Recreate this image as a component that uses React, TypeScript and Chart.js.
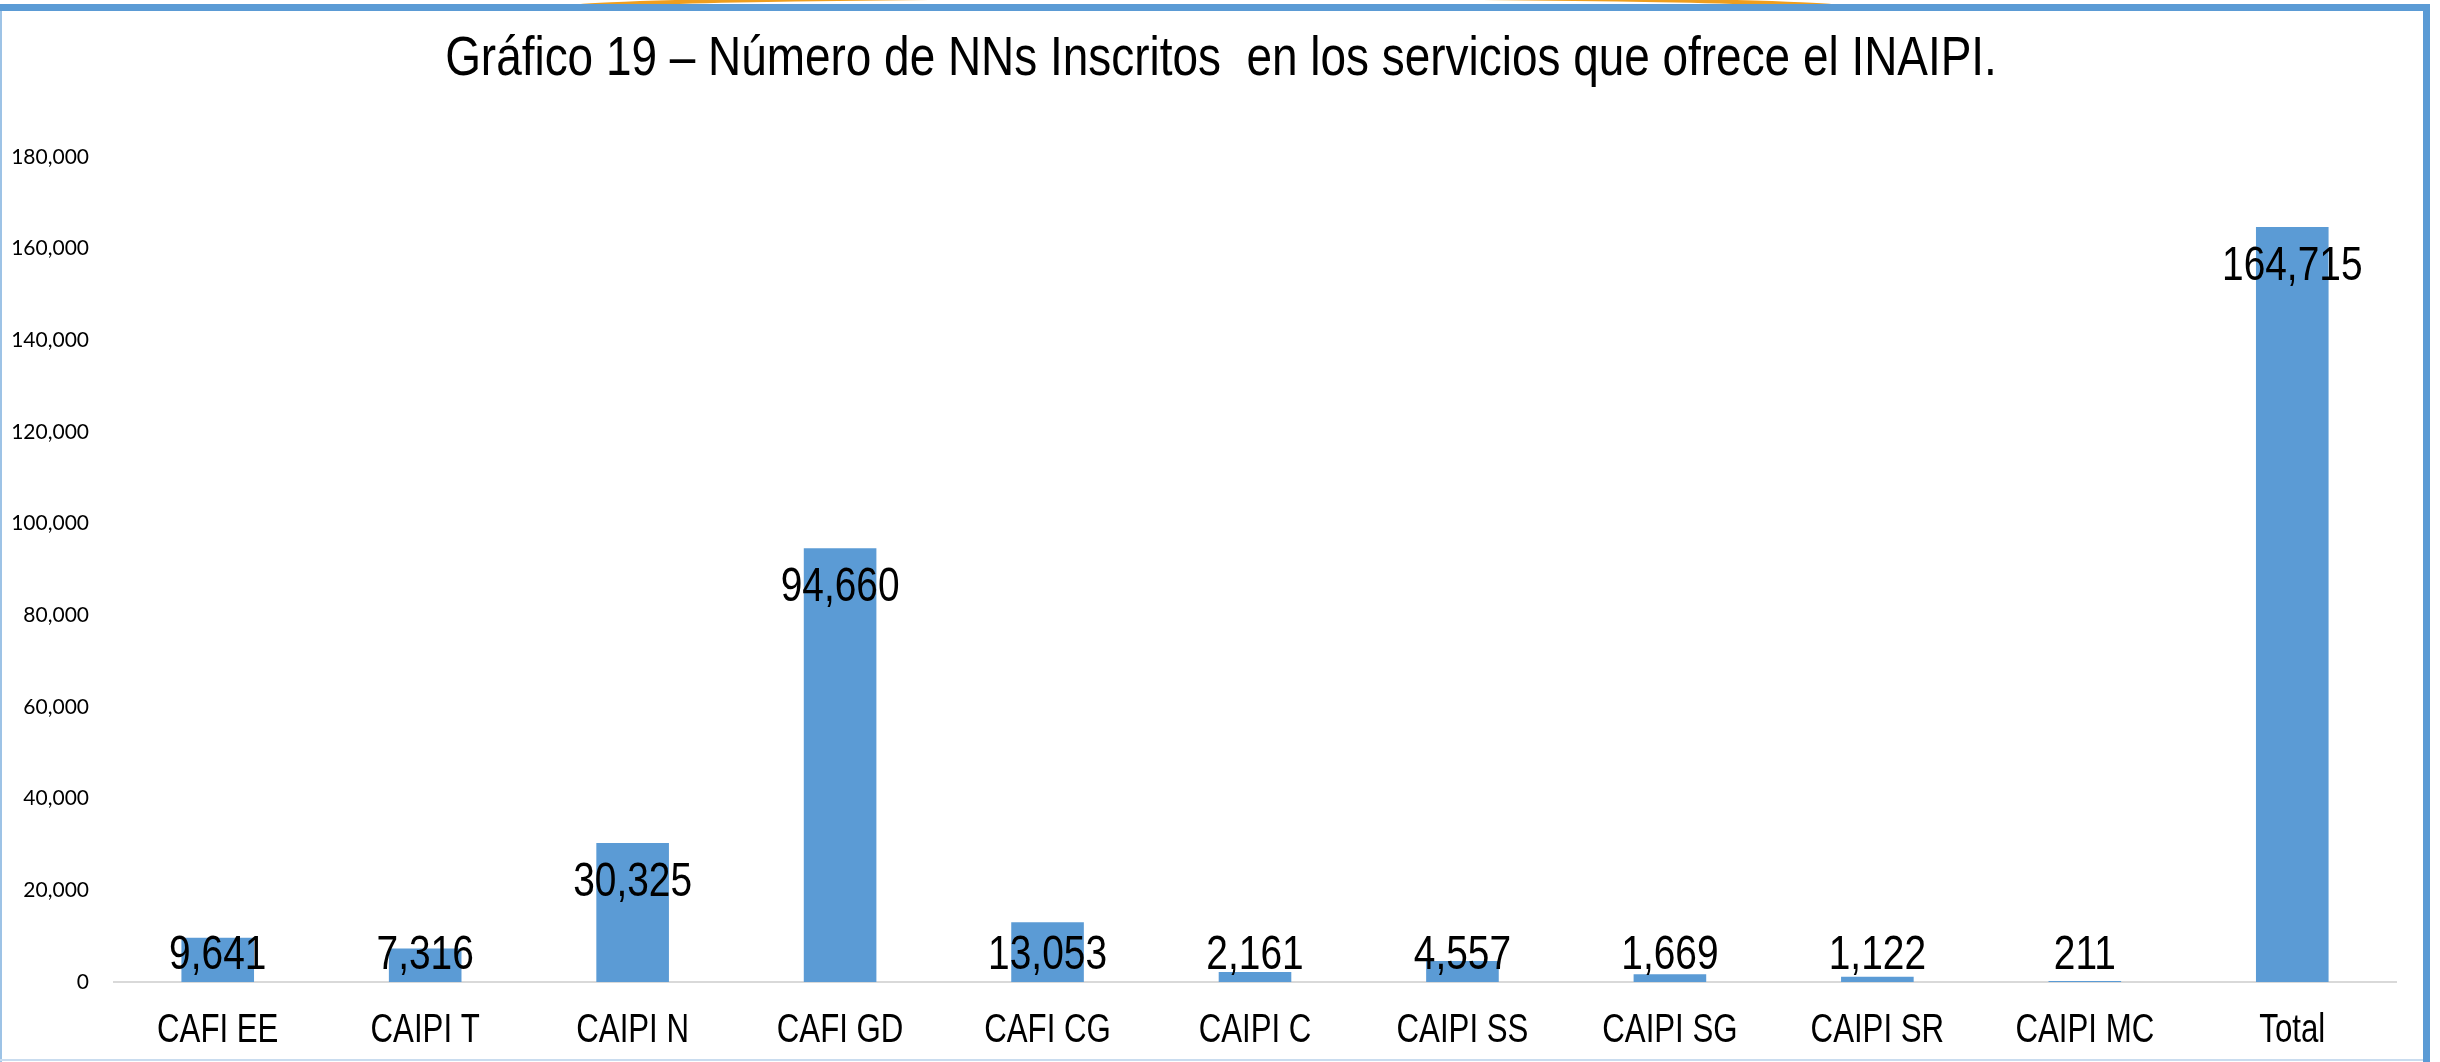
import React, { useEffect, useRef } from "react";
import { Chart, registerables, CategoryScale } from "chart.js";

const categories = [
  "CAFI EE",
  "CAIPI T",
  "CAIPI N",
  "CAFI GD",
  "CAFI CG",
  "CAIPI C",
  "CAIPI SS",
  "CAIPI SG",
  "CAIPI SR",
  "CAIPI MC",
  "Total",
];
const inscritos = [9641, 7316, 30325, 94660, 13053, 2161, 4557, 1669, 1122, 211, 164715];
const yMax = 180000;
const yStep = 20000;
const titleText = "Gráfico 19 – Número de NNs Inscritos  en los servicios que ofrece el INAIPI.";

const W = 2440;
const H = 1062;
const BAR = "#5B9BD5";
const SANS = "'Liberation Sans', Arial, sans-serif";
const SQUEEZE = 0.78;

// Category axis whose labels are drawn horizontally condensed (Arial Narrow look)
class NarrowCategoryScale extends (CategoryScale as any) {
  static id = "narrowCategory";
  static defaults = (CategoryScale as any).defaults;
  drawLabels(area: any) {
    const ctx: any = (this as any).ctx;
    const orig = ctx.fillText;
    ctx.fillText = function (t: string, x: number, y: number) {
      this.save();
      this.translate(x, y);
      this.scale(SQUEEZE, 1);
      orig.call(this, t, 0, 0);
      this.restore();
    };
    try {
      super.drawLabels(area);
    } finally {
      delete ctx.fillText;
    }
  }
}

Chart.register(...registerables, NarrowCategoryScale as any);

function narrowText(ctx: any, text: string, x: number, y: number, sx: number) {
  ctx.save();
  ctx.translate(x, y);
  ctx.scale(sx, 1);
  ctx.fillText(text, 0, 0);
  ctx.restore();
}

const framePlugin = {
  id: "frame",
  beforeDraw(chart: any) {
    const ctx = chart.ctx;
    ctx.save();
    ctx.fillStyle = "#ffffff";
    ctx.fillRect(0, 0, W, H);
    // orange decoration peeking above the frame
    ctx.save();
    ctx.beginPath();
    ctx.rect(0, 0, W, 5);
    ctx.clip();
    ctx.strokeStyle = "#EE9E1E";
    ctx.lineWidth = 4;
    ctx.beginPath();
    ctx.ellipse(1206, 8.5, 640, 11.6, 0, Math.PI, 2 * Math.PI);
    ctx.stroke();
    ctx.restore();
    // thin left & bottom
    ctx.fillStyle = "#9DC3E6";
    ctx.fillRect(0, 4, 2, H - 4);
    ctx.fillStyle = "#C9DCEF";
    ctx.fillRect(0, H - 3, 2430, 2);
    // thick top & right
    ctx.fillStyle = BAR;
    ctx.fillRect(0, 4, 2430, 7);
    ctx.fillRect(2423, 4, 7, H - 4);
    // title
    ctx.fillStyle = "#000000";
    ctx.font = `56px ${SANS}`;
    ctx.textAlign = "center";
    ctx.textBaseline = "middle";
    narrowText(ctx, titleText, 1221, 60, 0.82);
    ctx.restore();
  },
};

const labelPlugin = {
  id: "valueLabels",
  afterDatasetsDraw(chart: any) {
    const ctx = chart.ctx;
    const meta = chart.getDatasetMeta(0);
    const zeroY = chart.scales.y.getPixelForValue(0);
    ctx.save();
    ctx.font = `48px ${SANS}`;
    ctx.fillStyle = "#000000";
    ctx.textAlign = "center";
    ctx.textBaseline = "middle";
    meta.data.forEach((bar: any, i: number) => {
      const y = Math.min(bar.y + 40, zeroY - 26);
      narrowText(ctx, inscritos[i].toLocaleString("en-US"), bar.x, y, 0.81);
    });
    ctx.restore();
  },
};

export default function App() {
  const ref = useRef<HTMLCanvasElement>(null);
  useEffect(() => {
    if (!ref.current) return;
    const chart = new Chart(ref.current, {
      type: "bar",
      data: {
        labels: categories,
        datasets: [
          {
            data: inscritos,
            backgroundColor: BAR,
            borderWidth: 0,
            categoryPercentage: 1,
            barPercentage: 0.35,
          },
        ],
      },
      options: {
        animation: false,
        responsive: false,
        maintainAspectRatio: false,
        layout: { padding: { left: 10, right: 44, top: 157, bottom: 0 } },
        plugins: {
          legend: { display: false },
          tooltip: { enabled: false },
          title: { display: false },
        },
        scales: {
          x: {
            type: "narrowCategory" as any,
            afterFit: (s: any) => {
              s.height = 80;
            },
            grid: { display: false, drawTicks: false },
            border: { display: true, color: "#D9D9D9", width: 2 },
            ticks: {
              color: "#000000",
              font: { family: SANS, size: 40 },
              padding: 25,
              maxRotation: 0,
              autoSkip: false,
            },
          },
          y: {
            min: 0,
            max: yMax,
            afterFit: (s: any) => {
              s.width = 104;
            },
            grid: { display: false, drawTicks: false },
            border: { display: false },
            ticks: {
              stepSize: yStep,
              color: "#000000",
              font: { family: "Lato, 'Open Sans', sans-serif", size: 21 },
              padding: 25,
              callback: (v: any) => Number(v).toLocaleString("en-US"),
            },
          },
        },
      },
      plugins: [framePlugin, labelPlugin],
    });
    return () => chart.destroy();
  }, []);
  return (
    <div style={{ position: "fixed", left: 0, top: 0, width: W, height: H }}>
      <canvas ref={ref} width={W} height={H} style={{ width: W, height: H, display: "block" }} />
    </div>
  );
}
